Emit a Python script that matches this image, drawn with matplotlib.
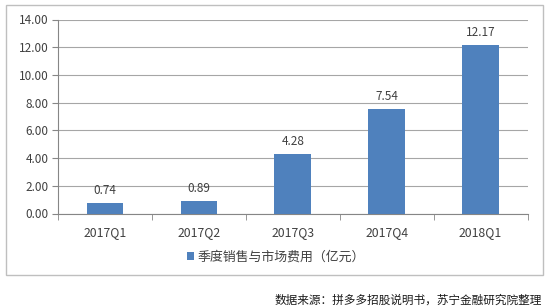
import matplotlib

matplotlib.use("Agg")
from matplotlib import pyplot as plt
from matplotlib.patches import Rectangle

plt.rcParams["font.family"] = ["Noto Sans CJK SC", "DejaVu Sans"]

quarters = ["2017Q1", "2017Q2", "2017Q3", "2017Q4", "2018Q1"]
expenses = [0.74, 0.89, 4.28, 7.54, 12.17]
y_ticks = [0, 2, 4, 6, 8, 10, 12, 14]
series_label = "季度销售与市场费用（亿元）"
source_note = "数据来源：拼多多招股说明书，苏宁金融研究院整理"

bar_color = "#4F81BD"
grid_color = "#A6A6A6"
text_color = "#404040"

fig = plt.figure(figsize=(5.49, 3.06), dpi=100)
fig.patch.set_facecolor("white")

# outer chart frame
fig.patches.append(
    Rectangle((6 / 549, 1 - 275 / 306), 537 / 549, 270 / 306,
              transform=fig.transFigure, fill=False,
              edgecolor="#BFBFBF", linewidth=1.0)
)

ax = fig.add_axes([58 / 549, 1 - 213.5 / 306, 469.5 / 549, 194 / 306])
positions = list(range(len(quarters)))
bars = ax.bar(positions, expenses, width=0.39, color=bar_color,
              label=series_label, zorder=3)
for rect, value in zip(bars, expenses):
    ax.annotate(f"{value:.2f}", (rect.get_x() + rect.get_width() / 2, value),
                xytext=(0, 4.5), textcoords="offset points",
                ha="center", va="bottom", fontsize=8.5, color=text_color)

ax.set_xlim(-0.5, len(quarters) - 0.5)
ax.set_ylim(0, 14)
ax.set_yticks(y_ticks)
ax.set_yticklabels([f"{v:.2f}" for v in y_ticks], fontsize=8.5, color=text_color)
ax.set_xticks(positions)
ax.set_xticklabels(quarters, fontsize=8.8, color=text_color)
ax.set_xticks([p + 0.5 for p in positions[:-1]] + [-0.5, len(quarters) - 0.5],
              minor=True)
ax.tick_params(axis="x", which="major", length=0, pad=9)
ax.tick_params(axis="x", which="minor", length=4, color="#868686")
ax.tick_params(axis="y", length=4, color="#868686", pad=3)
ax.grid(axis="y", color=grid_color, linewidth=0.8, zorder=0)
for side in ("top", "right"):
    ax.spines[side].set_visible(False)
for side in ("left", "bottom"):
    ax.spines[side].set_color("#868686")
    ax.spines[side].set_linewidth(0.8)

fig.legend(loc="center", bbox_to_anchor=(276 / 549, 1 - 257 / 306), frameon=False,
           fontsize=9.3, handlelength=0.55, handleheight=0.55, handletextpad=0.3,
           labelcolor=text_color)

fig.text(542 / 549, 1 - 300 / 306, source_note, ha="right", va="center",
         fontsize=8.4, style="italic", color="#1a1a1a")

fig.savefig("out.png", dpi=100)
